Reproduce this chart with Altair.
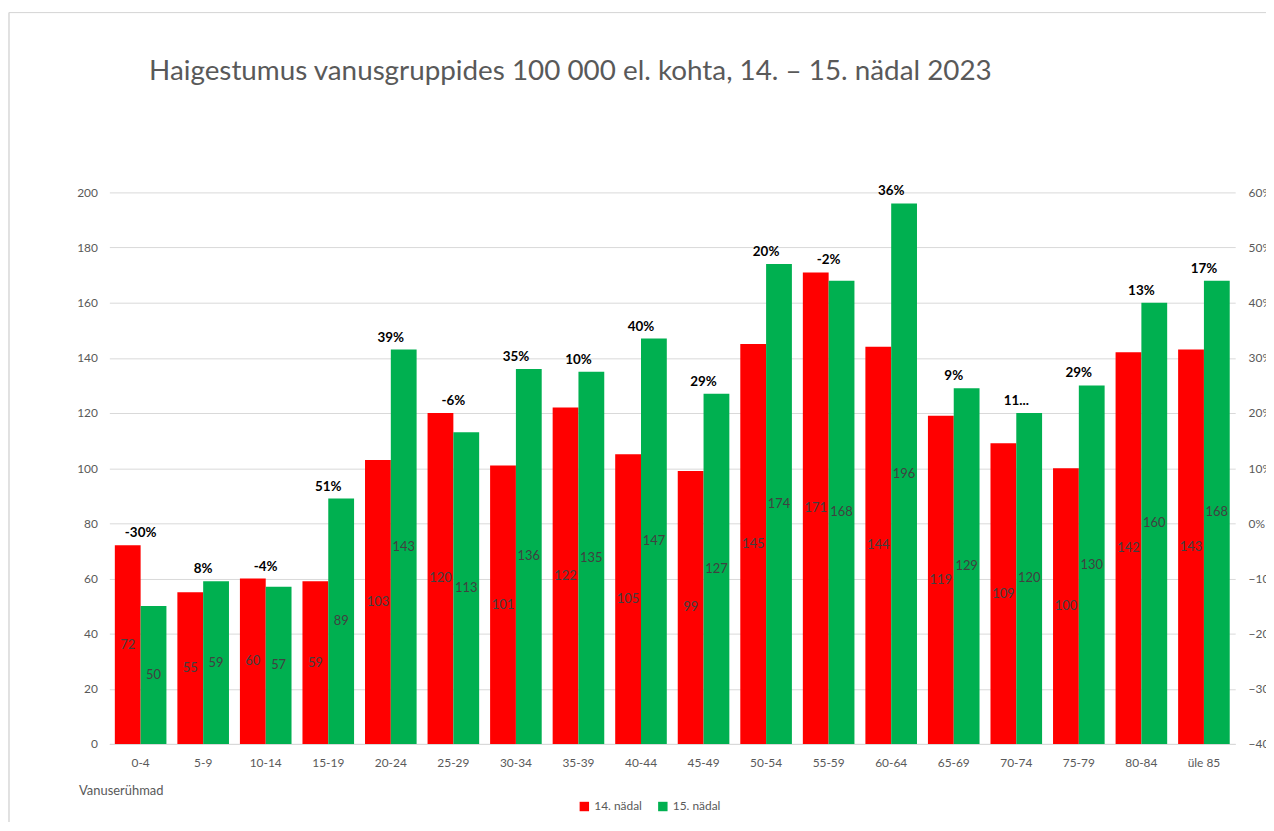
import altair as alt
import pandas as pd

title_text = "Haigestumus vanusgruppides 100 000 el. kohta, 14. – 15. nädal 2023"
ages = ["0-4", "5-9", "10-14", "15-19", "20-24", "25-29", "30-34", "35-39", "40-44",
        "45-49", "50-54", "55-59", "60-64", "65-69", "70-74", "75-79", "80-84", "üle 85"]
week14 = [72, 55, 60, 59, 103, 120, 101, 122, 105, 99, 145, 171, 144, 119, 109, 100, 142, 143]
week15 = [50, 59, 57, 89, 143, 113, 136, 135, 147, 127, 174, 168, 196, 129, 120, 130, 160, 168]
pct_labels = ["-30%", "8%", "-4%", "51%", "39%", "-6%", "35%", "10%", "40%", "29%",
              "20%", "-2%", "36%", "9%", "11...", "29%", "13%", "17%"]
series = ["14. nädal", "15. nädal"]
colors = ["#ff0000", "#00b050"]
right_ticks = [-0.4, -0.3, -0.2, -0.1, 0.0, 0.1, 0.2, 0.3, 0.4, 0.5, 0.6]

rows = []
for a, v14, v15 in zip(ages, week14, week15):
    rows.append({"age": a, "week": series[0], "value": v14, "half": v14 / 2})
    rows.append({"age": a, "week": series[1], "value": v15, "half": v15 / 2})
df = pd.DataFrame(rows)

pdf = pd.DataFrame({"age": ages, "top": [max(a, b) for a, b in zip(week14, week15)],
                    "label": pct_labels})
rdf = pd.DataFrame({"r": [right_ticks[0], right_ticks[-1]]})
tdf = pd.DataFrame({"t": [title_text]})

W, H = 1133, 555
GRAY = "#595959"
FONT = "Lato"

xenc = alt.X("age:N", sort=ages, title="Vanuserühmad",
             scale=alt.Scale(paddingInner=0.175, paddingOuter=0.0875),
             axis=alt.Axis(labelAngle=0, labelFontSize=12, labelColor=GRAY, labelFont=FONT,
                           labelPadding=14, ticks=False, domainColor="#d9d9d9",
                           titleFont=FONT, titleFontSize=13, titleFontWeight="normal",
                           titleColor=GRAY, titleAnchor="start", titleAlign="left",
                           titleX=-31, titleY=41))
yscale = alt.Scale(domain=[0, 200], nice=False)

bars = alt.Chart(df).mark_bar().encode(
    x=xenc,
    xOffset=alt.XOffset("week:N", sort=series, scale=alt.Scale(paddingInner=0, paddingOuter=0)),
    y=alt.Y("value:Q", scale=yscale, title=None,
            axis=alt.Axis(values=list(range(0, 201, 20)), labelFontSize=12, labelColor=GRAY,
                          labelFont=FONT, labelPadding=12, ticks=False, domain=False,
                          gridColor="#d9d9d9", gridWidth=1)),
    color=alt.Color("week:N", sort=series,
                    scale=alt.Scale(domain=series, range=colors),
                    legend=alt.Legend(title=None, orient="none", direction="horizontal",
                                      legendX=472, legendY=612, symbolType="square",
                                      symbolSize=90, symbolStrokeWidth=0,
                                      labelFontSize=12, labelColor=GRAY, labelFont=FONT,
                                      columnPadding=14, labelOffset=4)),
)

vals = alt.Chart(df).mark_text(fontSize=13, color="#404040", font=FONT).encode(
    x=alt.X("age:N", sort=ages),
    xOffset=alt.XOffset("week:N", sort=series),
    y=alt.Y("half:Q", scale=yscale),
    text=alt.Text("value:Q", format="d"),
)

pcts = alt.Chart(pdf).mark_text(fontSize=13.5, fontWeight="bold", color="#000000",
                                font=FONT, baseline="bottom", dy=-5).encode(
    x=alt.X("age:N", sort=ages),
    y=alt.Y("top:Q", scale=yscale),
    text="label:N",
)

right = alt.Chart(rdf).mark_point(opacity=0).encode(
    y=alt.Y("r:Q", title=None,
            scale=alt.Scale(domain=[right_ticks[0], right_ticks[-1]], nice=False),
            axis=alt.Axis(orient="right", values=right_ticks, format=".0%", grid=False,
                          ticks=False, domain=False, labelFontSize=12, labelColor=GRAY,
                          labelFont=FONT, labelPadding=13)),
)

frame = alt.Chart(rdf).mark_rect(fillOpacity=0, stroke="#d9d9d9", strokeWidth=1).encode(
    x=alt.value(-101), x2=alt.value(W + 200), y=alt.value(-181), y2=alt.value(H + 200)
)

title = alt.Chart(tdf).mark_text(fontSize=28, color=GRAY, font=FONT, align="left",
                                 baseline="middle").encode(
    x=alt.value(40), y=alt.value(-121), text="t:N"
)

left = alt.layer(frame, bars, vals, pcts, title)
chart = alt.layer(left, right).resolve_scale(y="independent").properties(
    width=W, height=H,
    autosize=alt.AutoSizeParams(type="none"),
    padding={"left": 102, "top": 183, "right": 31, "bottom": 76},
).configure_view(stroke=None)

chart.save("out.html", embed_options={"renderer": "svg", "actions": False})
